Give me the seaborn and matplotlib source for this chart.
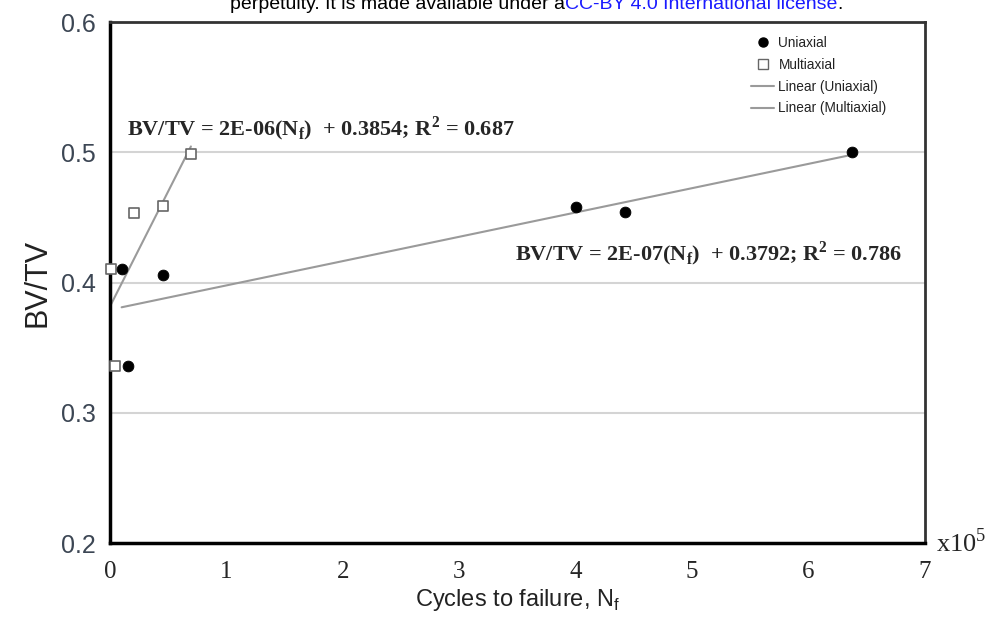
import numpy as np
import pandas as pd
import matplotlib
matplotlib.use("Agg")
import matplotlib.pyplot as plt
from matplotlib.lines import Line2D
import seaborn as sns

# cycles to failure (x10^5) and BV/TV
uni_cycles = [0.10, 0.155, 0.455, 4.00, 4.42, 6.37]
uni_bvtv = [0.410, 0.336, 0.406, 0.458, 0.454, 0.500]
multi_cycles = [0.01, 0.043, 0.205, 0.455, 0.695]
multi_bvtv = [0.410, 0.336, 0.453, 0.459, 0.499]

eq_multi = r"BV/TV = 2E-06(N$_\mathregular{f}$)  + 0.3854; R$^\mathregular{2}$ = 0.687"
eq_uni = r"BV/TV = 2E-07(N$_\mathregular{f}$)  + 0.3792; R$^\mathregular{2}$ = 0.786"

uni_df = pd.DataFrame({"cycles": uni_cycles, "bvtv": uni_bvtv})
multi_df = pd.DataFrame({"cycles": multi_cycles, "bvtv": multi_bvtv})

sns.set_style("white")
plt.rcParams["font.family"] = ["Liberation Sans", "DejaVu Sans"]

fig = plt.figure(figsize=(9.98, 6.36), dpi=100)
ax = fig.add_axes([0.1102, 0.1462, 0.8167, 0.8192])

ax.axhline(0.3, color="#d4d4d4", lw=1.5, zorder=0)
ax.axhline(0.4, color="#d4d4d4", lw=1.5, zorder=0)
ax.axhline(0.5, color="#d4d4d4", lw=1.5, zorder=0)

line_col = "#9a9a9a"
sns.regplot(data=uni_df, x="cycles", y="bvtv", ax=ax, scatter=False, ci=None,
            line_kws={"color": line_col, "lw": 1.5, "zorder": 2})
sns.regplot(data=multi_df, x="cycles", y="bvtv", ax=ax, scatter=False, ci=None,
            line_kws={"color": line_col, "lw": 1.5, "zorder": 2})

sns.scatterplot(data=uni_df, x="cycles", y="bvtv", ax=ax, marker="o", s=60,
                color="black", edgecolor="black", zorder=4, clip_on=False)
sns.scatterplot(data=multi_df, x="cycles", y="bvtv", ax=ax, marker="s", s=55,
                facecolor="white", edgecolor="#666666", linewidth=1.2, zorder=3,
                clip_on=False)

ax.set_xlim(0, 7)
ax.set_ylim(0.2, 0.6)
ax.set_xticks(range(8))
ax.set_yticks([0.2, 0.3, 0.4, 0.5, 0.6])
ax.set_yticklabels(["0.2", "0.3", "0.4", "0.5", "0.6"], fontsize=18, color="#3c4654")
ax.set_xticklabels([str(i) for i in range(8)], fontsize=18, family="Liberation Serif")
ax.tick_params(axis="y", direction="inout", length=12, width=1.5, color="black", pad=4)
ax.tick_params(axis="x", direction="out", length=5, width=1.5, color="black", pad=8)

ax.set_xlabel(r"Cycles to failure, N$_\mathregular{f}$", fontsize=17, color="#222222", labelpad=3)
ax.set_ylabel("BV/TV", fontsize=22, color="#222222", labelpad=6)

for side in ["left", "bottom"]:
    ax.spines[side].set_color("black")
    ax.spines[side].set_linewidth(2.5)
for side in ["top", "right"]:
    ax.spines[side].set_color("#333333")
    ax.spines[side].set_linewidth(2)

ax.text(1.014, 0.0, r"x10$^\mathregular{5}$", transform=ax.transAxes, fontsize=19,
        family="Liberation Serif", ha="left", va="center")

ax.text(0.021, 0.795, eq_multi, transform=ax.transAxes, fontsize=16,
        family="Liberation Serif", fontweight="bold", va="center")
ax.text(0.497, 0.555, eq_uni, transform=ax.transAxes, fontsize=16,
        family="Liberation Serif", fontweight="bold", va="center")

handles = [
    Line2D([], [], ls="none", marker="o", ms=6.5, color="black"),
    Line2D([], [], ls="none", marker="s", ms=6.5, mfc="white", mec="#666666", mew=1.0),
    Line2D([], [], color=line_col, lw=1.5),
    Line2D([], [], color=line_col, lw=1.5),
]
labels = ["Uniaxial", "Multiaxial", "Linear (Uniaxial)", "Linear (Multiaxial)"]
leg = ax.legend(handles, labels, loc="upper left", bbox_to_anchor=(0.78, 0.984),
                frameon=False, fontsize=9.8, handlelength=1.7, handletextpad=0.3,
                labelspacing=0.58, borderaxespad=0)
for t in leg.get_texts():
    t.set_color("#222222")

# cropped header line from the source page
head_y = 1 - 9 / 636
t1 = fig.text(0.2305, head_y, "perpetuity. It is made available under a", fontsize=14,
              color="black", va="baseline")
fig.canvas.draw()
x1 = fig.transFigure.inverted().transform(t1.get_window_extent().get_points())[1, 0]
t2 = fig.text(x1, head_y, "CC-BY 4.0 International license", fontsize=14,
              color="#1a1aff", va="baseline")
fig.canvas.draw()
x2 = fig.transFigure.inverted().transform(t2.get_window_extent().get_points())[1, 0]
fig.text(x2, head_y, ".", fontsize=14, color="black", va="baseline")

fig.savefig("out.png", dpi=100)
